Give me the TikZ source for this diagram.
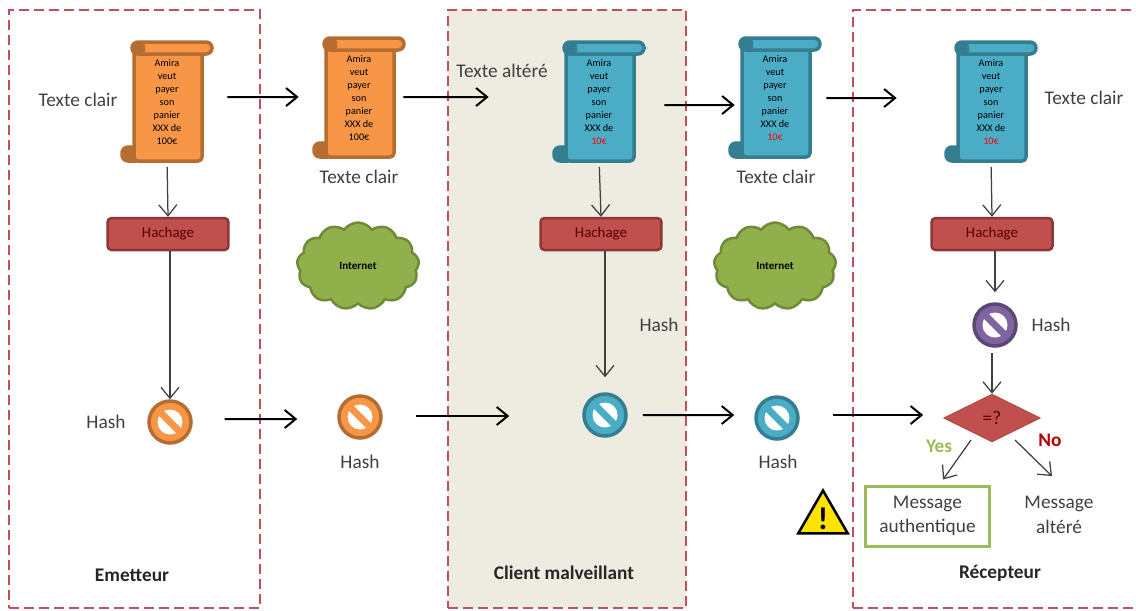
\documentclass[tikz,border=0pt]{standalone}
\usepackage{fontspec}
\setmainfont{Carlito}
\usetikzlibrary{arrows.meta,shapes.geometric,shapes.symbols}
\definecolor{orangefill}{HTML}{F79646}
\definecolor{orangeline}{HTML}{B66D31}
\definecolor{bluefill}{HTML}{4BACC6}
\definecolor{blueline}{HTML}{357D91}
\definecolor{purplefill}{HTML}{8064A2}
\definecolor{purpleline}{HTML}{5C4776}
\definecolor{redfill}{HTML}{C0504D}
\definecolor{redline}{HTML}{8C3836}
\definecolor{greenfill}{HTML}{8FB04A}
\definecolor{greenline}{HTML}{6F8A3A}
\definecolor{greenbox}{HTML}{9BBB59}
\definecolor{zoneline}{HTML}{C0505A}
\definecolor{zonefill}{HTML}{EEEBE0}
\definecolor{labelgrey}{HTML}{404040}
\tikzset{
  >={Straight Barb[length=.22cm,width=.36cm]},
  pics/scrollart/.style 2 args={code={
    \draw[line width=.07cm,draw=#2,fill=#2,rounded corners=.12cm] (-45,47) rectangle (-25,61);
    \draw[line width=.07cm,draw=#2,fill=#1,rounded corners=.08cm] (-33,-50) -- (-33,61) -- (35,61) -- (35,-50);
    \draw[line width=.07cm,draw=#2,fill=#1,rounded corners=.12cm] (-35,-58) rectangle (45,-46);
    \fill[#2,rounded corners=.06cm] (-34,-57) rectangle (-22,-46);
  }},
}
\begin{document}
\begin{tikzpicture}[x=0.02cm,y=-0.02cm,
    zone/.style = {draw=zoneline, dashed, line width=.03cm, dash pattern=on .2cm off .1cm, inner sep=0},
    flow/.style = {->, line width=.04cm, draw=black},
    thinflow/.style = {->, line width=.025cm, draw=black!75},
    scrolltext/.style = {minimum width=1.36cm, minimum height=2.18cm, inner sep=0, align=center, font=\fontsize{5.8}{7.4}\selectfont},
    hachage/.style = {draw=redline, fill=redfill, line width=.05cm, rounded corners=.08cm, minimum width=2.42cm, minimum height=.64cm, inner sep=0, text=red!35!black, font=\fontsize{8.5}{10}\selectfont},
    internet/.style = {cloud, cloud puffs=13, cloud puff arc=110, aspect=1.4, draw=greenline, fill=greenfill, line width=.05cm, minimum width=2.44cm, minimum height=1.74cm, inner sep=0, font=\bfseries\fontsize{6.3}{8}\selectfont},
    hashsign/.style 2 args = {circle, draw=#2, fill=#1, line width=.07cm, minimum size=.84cm, inner sep=0,
      path picture={
        \fill[white] (path picture bounding box.center) circle (.25cm);
        \draw[#1, line width=.14cm] ([shift={(-.3cm,.3cm)}]path picture bounding box.center) -- ([shift={(.3cm,-.3cm)}]path picture bounding box.center);
      }},
    lbl/.style = {text=labelgrey, align=center, inner sep=0, font=\fontsize{11}{14}\selectfont},
    title/.style = {text=black!85, inner sep=0, font=\bfseries\fontsize{11}{13}\selectfont}]
    \clip (0,0) rectangle (1136,610);
    % zones
    \node[zone, minimum width=5.02cm, minimum height=11.96cm] (emetteur) at (134.5,309) {};
    \node[zone, fill=zonefill, minimum width=4.76cm, minimum height=11.96cm] (client) at (567,309) {};
    \node[zone, minimum width=5.8cm, minimum height=11.96cm] (recepteur) at (998,309) {};
    % scrolls
    \pic at (167,100) {scrollart={orangefill}{orangeline}};
    \pic at (359,96) {scrollart={orangefill}{orangeline}};
    \pic at (599,100) {scrollart={bluefill}{blueline}};
    \pic at (775,96) {scrollart={bluefill}{blueline}};
    \pic at (991,100) {scrollart={bluefill}{blueline}};
    \node[scrolltext] (s1) at (167,102) {Amira\\veut\\payer\\son\\panier\\XXX de\\100€};
    \node[scrolltext] (s2) at (359,98) {Amira\\veut\\payer\\son\\panier\\XXX de\\100€};
    \node[scrolltext] (s3) at (599,102) {Amira\\veut\\payer\\son\\panier\\XXX de\\\textcolor{red}{10€}};
    \node[scrolltext] (s4) at (775,98) {Amira\\veut\\payer\\son\\panier\\XXX de\\\textcolor{red}{10€}};
    \node[scrolltext] (s5) at (991,102) {Amira\\veut\\payer\\son\\panier\\XXX de\\\textcolor{red}{10€}};
    % hachage, clouds
    \node[hachage] (hach1) at (168,234) {Hachage};
    \node[hachage] (hach2) at (601,234) {Hachage};
    \node[hachage] (hach3) at (992,234) {Hachage};
    \node[internet] (net1) at (358,266) {Internet};
    \node[internet] (net2) at (775,266) {Internet};
    % hash signs
    \node[hashsign={orangefill}{orangeline}] (h1) at (170,422) {};
    \node[hashsign={orangefill}{orangeline}] (h2) at (360,417) {};
    \node[hashsign={bluefill}{blueline}] (h3) at (605,415) {};
    \node[hashsign={bluefill}{blueline}] (h4) at (777,418) {};
    \node[hashsign={purplefill}{purpleline}] (h5) at (995,325) {};
    % compare and results
    \node[diamond, aspect=2, fill=redfill, draw=redfill!90!black, minimum width=1.94cm, minimum height=.96cm, inner sep=0, text=red!35!black, font=\fontsize{11}{13}\selectfont] (cmp) at (992,418) {=?};
    \node[lbl, draw=greenbox, line width=.06cm, minimum width=2.5cm, minimum height=1.2cm] (ok) at (927.5,516) {Message\\authentique};
    \node[lbl] (nok) at (1059,515) {Message\\altéré};
    \node[regular polygon, regular polygon sides=3, draw=black, fill=yellow!85!orange, line width=.05cm, minimum size=1.14cm, inner sep=0, font=\bfseries\fontsize{18}{18}\selectfont] (warn) at (823,519) {\smash{\raisebox{-.33em}{!}}};
    % labels
    \node[lbl] (t1) at (78,100) {Texte clair};
    \node[lbl] (t2) at (359,177) {Texte clair};
    \node[lbl] (t3) at (502,71) {Texte altéré};
    \node[lbl] (t4) at (776,177) {Texte clair};
    \node[lbl] (t5) at (1084,98) {Texte clair};
    \node[lbl] (l1) at (106,422) {Hash};
    \node[lbl] (l2) at (360,462) {Hash};
    \node[lbl] (l3) at (659,325) {Hash};
    \node[lbl] (l4) at (778,462) {Hash};
    \node[lbl] (l5) at (1051,325) {Hash};
    \node[title] (e) at (132,575) {Emetteur};
    \node[title] (c) at (564,573) {Client malveillant};
    \node[title] (r) at (1000,573) {Récepteur};
    \node[title, text=greenbox] (yes) at (939,446) {Yes};
    \node[title, text=red!70!black] (no) at (1050,440) {No};
    % top row
    \draw[flow, shorten <=.52cm, shorten >=.52cm] ([yshift=.1cm]s1.east) -- ([yshift=.02cm]s2.west);
    \draw[flow, shorten <=.2cm, shorten >=1.52cm] ([yshift=.02cm]s2.east) -- ([yshift=.1cm]s3.west);
    \draw[flow, shorten <=.62cm, shorten >=.12cm] ([yshift=-.06cm]s3.east) -- ([yshift=-.14cm]s4.west);
    \draw[flow, shorten <=.34cm, shorten >=1.2cm] (s4.east) -- ([yshift=.08cm]s5.west);
    % hash row
    \draw[flow, shorten <=.64cm, shorten >=.8cm] ([yshift=.06cm]h1.east) -- ([yshift=-.04cm]h2.west);
    \draw[flow, shorten <=.66cm, shorten >=1.46cm] ([yshift=.02cm]h2.east) -- ([yshift=-.02cm]h3.west);
    \draw[flow, shorten <=.3cm, shorten >=.4cm] (h3.east) -- ([yshift=.06cm]h4.west);
    \draw[flow, shorten <=.66cm, shorten >=.4cm] ([yshift=.06cm]h4.east) -- ([yshift=.06cm]cmp.west);
    % vertical
    \draw[thinflow, shorten <=.2cm] (s1.south) -- (hach1.north);
    \draw[thinflow] (h1 |- hach1.south) -- (h1.north);
    \draw[thinflow, shorten <=.2cm] (s3.south) -- (hach2.north);
    \draw[thinflow, shorten >=.3cm] (h3 |- hach2.south) -- (h3.north);
    \draw[thinflow, shorten <=.2cm] (s5.south) -- (hach3.north);
    \draw[thinflow, shorten >=.2cm] (h5 |- hach3.south) -- (h5.north);
    \draw[thinflow, shorten <=.1cm] (cmp |- h5.south) -- (cmp.north);
    \draw[thinflow] ([xshift=-.42cm,yshift=-.44cm]cmp.center) -- ([xshift=.31cm,yshift=.1cm]ok.north);
    \draw[thinflow] ([xshift=.46cm,yshift=-.44cm]cmp.center) -- ([xshift=-.14cm,yshift=.4cm]nok.north);
\end{tikzpicture}
\end{document}
